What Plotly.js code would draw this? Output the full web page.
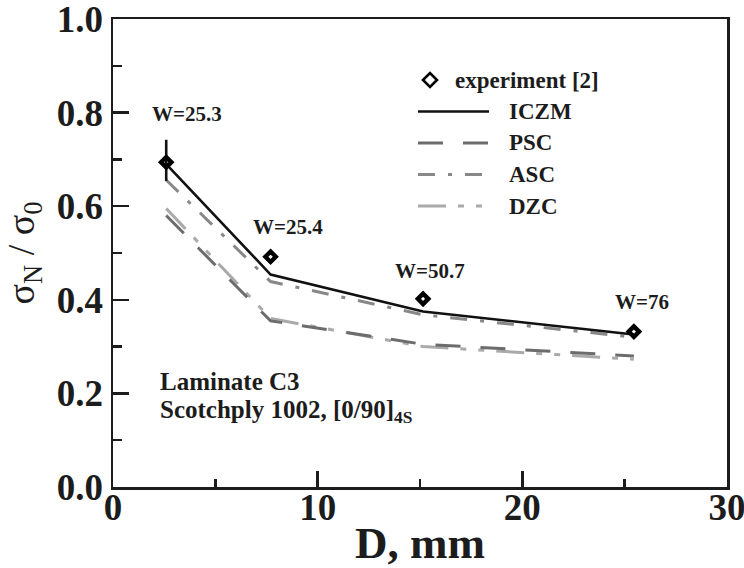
<!DOCTYPE html>
<html>
<head>
<meta charset="utf-8">
<script src="https://cdn.plot.ly/plotly-3.0.1.min.js"></script>
<style>html,body{margin:0;padding:0;background:#fff;}</style>
</head>
<body>
<div id="chart" style="width:744px;height:568px;"></div>
<script>
// Hole diameter D (mm) and normalised notched strength sigma_N / sigma_0
const diameter = [2.6, 7.7, 15.15, 25.45];
const experiment = [0.694, 0.492, 0.402, 0.332];
const expErrPlus = [0.048, 0, 0, 0];
const expErrMinus = [0.040, 0, 0, 0];
const iczm = [0.69, 0.454, 0.375, 0.326];
const psc = [0.58, 0.355, 0.305, 0.28];
const asc = [0.656, 0.439, 0.368, 0.32];
const dzc = [0.595, 0.36, 0.30, 0.273];
const widthLabels = ['W=25.3', 'W=25.4', 'W=50.7', 'W=76'];
const legendNames = ['experiment [2]', 'ICZM', 'PSC', 'ASC', 'DZC'];
const specimenLines = ['Laminate C3', 'Scotchply 1002, [0/90]<sub>4S</sub>'];
const xTickVals = [0, 10, 20, 30];
const yTickVals = [0, 0.2, 0.4, 0.6, 0.8, 1.0];

// styling
const SERIF = 'Liberation Serif, Times New Roman, serif';
const INK = '#1c1c1c';
const styles = {
  ICZM: {color: '#111111', width: 2.6, dash: 'solid'},
  PSC:  {color: '#6c6c6c', width: 3, dash: '25px,20px'},
  ASC:  {color: '#888888', width: 3, dash: '17px,13px,4px,13px'},
  DZC:  {color: '#aaaaaa', width: 3, dash: '28px,12px,6px,12px,6px,12px'}
};
// pixel offsets of the W labels from their experiment points
const labelShift = [[21, 48], [17, 30], [7, 28], [8, 30]];

const margin = {l: 113, r: 17, t: 19, b: 81};
const plotW = 744 - margin.l - margin.r;
const plotH = 568 - margin.t - margin.b;
const px2x = p => (p - margin.l) / plotW;
const px2y = p => (568 - margin.b - p) / plotH;

const lineTrace = (name, y) => ({
  x: diameter, y: y, name: name, mode: 'lines', type: 'scatter',
  line: styles[name], showlegend: false, hoverinfo: 'skip'
});

const traces = [
  lineTrace('DZC', dzc),
  lineTrace('PSC', psc),
  lineTrace('ASC', asc),
  lineTrace('ICZM', iczm),
  {
    x: diameter, y: experiment, name: 'experiment [2]', mode: 'markers', type: 'scatter',
    marker: {symbol: 'diamond-open', size: 8, color: '#000', line: {width: 4.4, color: '#000'}},
    error_y: {type: 'data', symmetric: false, array: expErrPlus, arrayminus: expErrMinus,
              color: '#111', thickness: 2.6, width: 0},
    showlegend: false
  }
];

// legend block, top right of the plot
const legendLeft = 418, legendLineEnd = 489, legendTextX = 507, legendTop = 80, legendStep = 31.5;
const shapes = [];
const annotations = [];
legendNames.forEach((name, i) => {
  const yy = px2y(legendTop + i * legendStep);
  if (i === 0) {
    shapes.push({
      type: 'path', xref: 'paper', yref: 'paper', xsizemode: 'pixel', ysizemode: 'pixel',
      xanchor: px2x(430), yanchor: yy, path: 'M-7,0L0,7L7,0L0,-7Z',
      line: {color: '#000', width: 2.6}, fillcolor: 'rgba(0,0,0,0)'
    });
    annotations.push({xref: 'paper', yref: 'paper', x: px2x(453), y: yy, xanchor: 'left', yanchor: 'middle',
      text: name, showarrow: false, font: {family: SERIF, size: 23, weight: 'bold', color: INK}});
  } else {
    const st = styles[name];
    shapes.push({
      type: 'line', xref: 'paper', yref: 'paper', x0: px2x(legendLeft), x1: px2x(legendLineEnd), y0: yy, y1: yy,
      line: {color: st.color, width: st.width, dash: st.dash}
    });
    annotations.push({xref: 'paper', yref: 'paper', x: px2x(legendTextX), y: yy, xanchor: 'left', yanchor: 'middle',
      text: name, showarrow: false, font: {family: SERIF, size: 23, weight: 'bold', color: INK}});
  }
});

// strip-width labels above each experiment point
widthLabels.forEach((t, i) => {
  annotations.push({x: diameter[i], y: experiment[i], xref: 'x', yref: 'y', text: t, showarrow: false,
    xshift: labelShift[i][0], yshift: labelShift[i][1],
    font: {family: SERIF, size: 21, weight: 'bold', color: INK}});
});

// specimen description, two lines
specimenLines.forEach((t, i) => {
  annotations.push({xref: 'paper', yref: 'paper', x: px2x(158), y: px2y(381 + i * 30), xanchor: 'left', yanchor: 'middle',
    align: 'left', showarrow: false, text: t,
    font: {family: SERIF, size: 25, weight: 'bold', color: INK}});
});

const axisCommon = {
  showgrid: false, zeroline: false, showline: true, linecolor: INK, linewidth: 2.5, mirror: true,
  ticks: 'inside', tickcolor: INK, tickwidth: 2.5, ticklen: 16,
  ticklabeloverflow: 'allow',
  tickfont: {family: SERIF, size: 37, weight: 'bold', color: INK}
};

const layout = {
  width: 744, height: 568, margin: margin,
  paper_bgcolor: '#fff', plot_bgcolor: '#fff',
  showlegend: false,
  xaxis: Object.assign({}, axisCommon, {
    range: [0, 30], tickvals: xTickVals, ticktext: xTickVals.map(String),
    ticklabelstandoff: -14,
    minor: {tickvals: [5, 15, 25], ticks: 'inside', ticklen: 8, tickwidth: 2.5, tickcolor: INK, showgrid: false},
    title: {text: 'D, mm', standoff: 10, font: {family: SERIF, size: 45, weight: 'bold', color: INK}}
  }),
  yaxis: Object.assign({}, axisCommon, {
    range: [0, 1], tickvals: yTickVals, ticktext: yTickVals.map(v => v.toFixed(1)),
    minor: {tickvals: [0.1, 0.3, 0.5, 0.7, 0.9], ticks: 'inside', ticklen: 9, tickwidth: 2.5, tickcolor: INK, showgrid: false},
    title: {text: 'σ<sub>N</sub> / σ<sub>0</sub>', standoff: 12, font: {family: SERIF, size: 38, color: INK}}
  }),
  shapes: shapes,
  annotations: annotations
};

Plotly.newPlot('chart', traces, layout, {displayModeBar: false, staticPlot: true});
</script>
</body>
</html>
